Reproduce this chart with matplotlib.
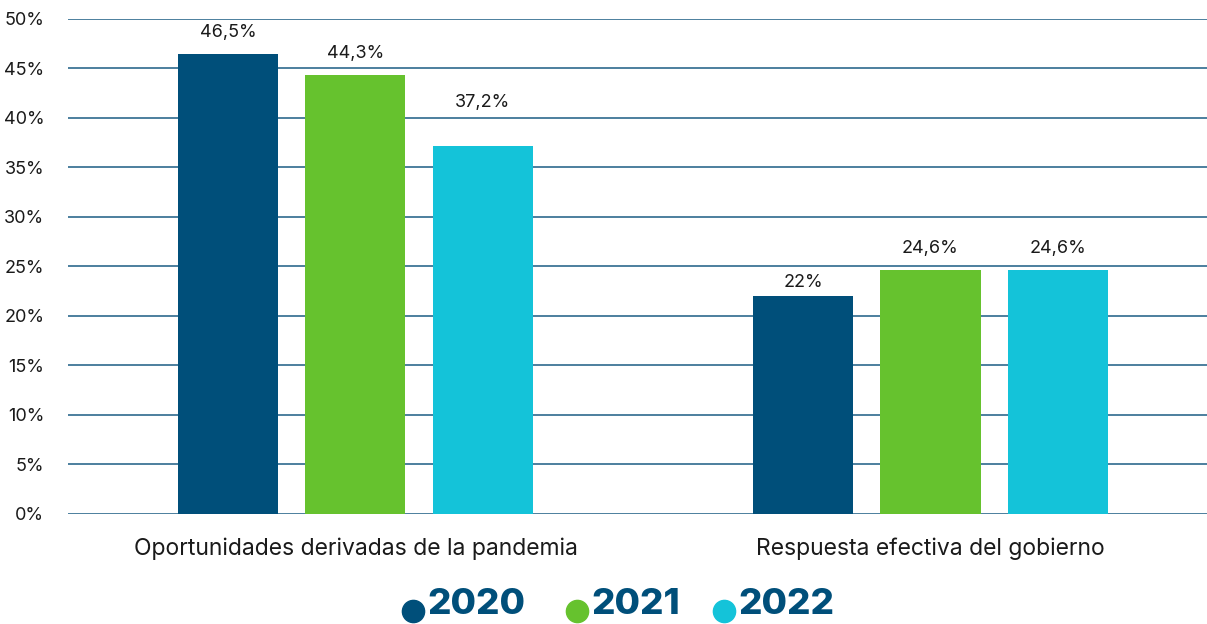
import numpy as np
import matplotlib.pyplot as plt

plt.rcParams['font.family'] = ['Inter', 'DejaVu Sans']

# Datos
categorias = ['Oportunidades derivadas de la pandemia', 'Respuesta efectiva del gobierno']
anios = ['2020', '2021', '2022']
v2020 = [46.5, 22.0]
v2021 = [44.3, 24.6]
v2022 = [37.2, 24.6]
etiquetas = [['46,5%', '22%'], ['44,3%', '24,6%'], ['37,2%', '24,6%']]
colores = ['#004F7A', '#66C22E', '#14C3D9']
# desplazamiento de las etiquetas sobre la barra (puntos)
desp = [[9, 4], [10, 10], [25, 10]]

fig = plt.figure(figsize=(12.07, 6.24), dpi=100)
ax = fig.add_axes([0.0563, 0.1763, 0.9528, 0.7933])

x = np.arange(len(categorias))
ancho = 0.174
paso = 0.221
for i, (vals, col) in enumerate(zip([v2020, v2021, v2022], colores)):
    pos = x + (i - 1) * paso
    ax.bar(pos, vals, width=ancho, color=col, zorder=3)
    for p, v, t, d in zip(pos, vals, etiquetas[i], desp[i]):
        ax.annotate(t, (p, v), xytext=(0, d), textcoords='offset points',
                    ha='center', va='bottom', fontsize=13, color='#1a1a1a')

ax.set_xlim(-0.5, 1.5)
ax.set_ylim(0, 50)
ax.set_yticks(np.arange(0, 51, 5))
ax.set_yticklabels([f'{t}%' for t in range(0, 51, 5)], fontsize=13, color='#1a1a1a')
ax.yaxis.grid(True, color='#2E6A8E', linewidth=1.2, zorder=0)
ax.set_xticks(x)
ax.set_xticklabels(categorias, fontsize=16.5, color='#1a1a1a')
ax.tick_params(axis='both', length=0)
ax.tick_params(axis='x', pad=17)
ax.tick_params(axis='y', pad=17)
for s in ax.spines.values():
    s.set_visible(False)

# leyenda dibujada a mano
ley = fig.add_axes([0, 0, 1, 1], facecolor='none')
ley.set_xlim(0, 1207)
ley.set_ylim(624, 0)
ley.axis('off')
for xm, c, a in zip([413, 577, 724], colores, anios):
    ley.plot(xm, 611, 'o', markersize=16, color=c)
    ley.text(xm + 14, 605, a, ha='left', va='center', fontsize=26.5,
             fontweight='heavy', color='#004F7A')

fig.savefig('out.png', dpi=100)
